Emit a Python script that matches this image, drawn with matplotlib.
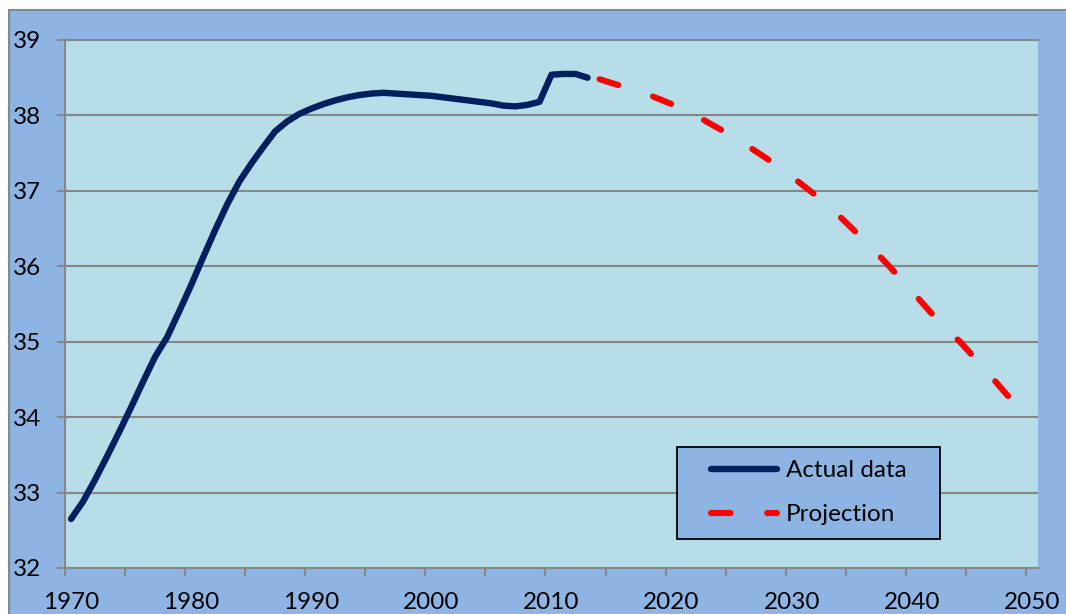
import matplotlib
matplotlib.use('Agg')
import matplotlib.pyplot as plt
from matplotlib.patches import Rectangle
from matplotlib.legend_handler import HandlerLine2D

plt.rcParams['font.family'] = ['Lato', 'DejaVu Sans']

# actual data, one value per year
actual_years = list(range(1970, 2014))
actual_vals = [32.65, 32.88, 33.17, 33.48, 33.80, 34.13, 34.47, 34.80, 35.06, 35.40,
               35.75, 36.12, 36.48, 36.82, 37.12, 37.36, 37.58, 37.79, 37.92, 38.02,
               38.09, 38.15, 38.20, 38.24, 38.27, 38.29, 38.30, 38.29, 38.28, 38.27,
               38.26, 38.24, 38.22, 38.20, 38.18, 38.16, 38.13, 38.12, 38.14, 38.18,
               38.54, 38.55, 38.55, 38.50]

# projection, every second year
proj_years = list(range(2014, 2049, 2))
proj_vals = [38.48, 38.38, 38.28, 38.15, 38.00, 37.82, 37.63, 37.42, 37.19, 36.94,
             36.66, 36.35, 36.02, 35.67, 35.31, 35.00, 34.65, 34.28]

x_labels = [str(y) for y in range(1970, 2051, 10)]
y_ticks = list(range(32, 40))

fig_bg = '#8DB4E2'
plot_bg = '#B7DDE8'
grey = '#878787'
fs = 17.5


class ShiftedLine(HandlerLine2D):
    # legend line that starts a bit to the right inside its handle box
    def __init__(self, shift, **kw):
        super().__init__(**kw)
        self.shift = shift

    def create_artists(self, legend, orig_handle, xdescent, ydescent, width, height,
                       fontsize, trans):
        s = self.shift * fontsize
        return super().create_artists(legend, orig_handle, xdescent - s, ydescent,
                                      width - s, height, fontsize, trans)


fig = plt.figure(figsize=(10.66, 6.14), dpi=100, facecolor='white')
fig.patches.append(Rectangle((9 / 1066, -0.2), 1.2, 1.2 - 10 / 614,
                             transform=fig.transFigure, facecolor=fig_bg,
                             edgecolor=grey, linewidth=1.5, zorder=-10))

ax = fig.add_axes([65 / 1066, 46 / 614, (1038 - 65) / 1066, (568 - 40) / 614])
ax.set_facecolor(plot_bg)

# category axis: points sit in the middle of each year slot
l1, = ax.plot([y + 0.5 for y in actual_years], actual_vals, color='#002060', lw=4.6,
              solid_capstyle='round', solid_joinstyle='round', label='Actual data',
              zorder=3)
l2, = ax.plot([y + 0.5 for y in proj_years], proj_vals, color='#FF0000', lw=4.4,
              linestyle=(0, (3.2, 6.0)), dash_capstyle='round', label='Projection',
              zorder=3)

ax.set_xlim(1970, 2051)
ax.set_ylim(32, 39)

ax.set_xticks(range(1970, 2051, 5))
ax.set_xticklabels([])
ax.set_xticks([int(l) + 0.5 for l in x_labels], minor=True)
ax.set_xticklabels(x_labels, minor=True)
ax.tick_params(axis='x', which='major', length=6, width=1.5, color=grey, direction='out')
ax.tick_params(axis='x', which='minor', length=0, pad=17, labelsize=fs)

ax.set_yticks(y_ticks)
ax.tick_params(axis='y', length=6, width=1.5, color=grey, direction='out', pad=11,
               labelsize=fs)

ax.grid(axis='y', color=grey, lw=1.5)
ax.set_axisbelow(True)
for s in ['left', 'bottom', 'top']:
    ax.spines[s].set_color(grey)
    ax.spines[s].set_linewidth(1.5)
ax.spines['right'].set_visible(False)

leg = ax.legend(handles=[l1, l2], loc='upper left', mode='expand',
                bbox_to_anchor=(677 / 1066, (614 - 537) / 614, 263 / 1066, 90 / 614),
                bbox_transform=fig.transFigure, borderaxespad=0, fontsize=fs,
                fancybox=False, framealpha=1, facecolor=fig_bg, edgecolor='black',
                handlelength=3.58, handletextpad=0.35, labelspacing=0.95,
                borderpad=0.55,
                handler_map={l1: ShiftedLine(0.85), l2: ShiftedLine(0.85)})
leg.get_frame().set_linewidth(1.3)

fig.savefig('out.png', dpi=100)
